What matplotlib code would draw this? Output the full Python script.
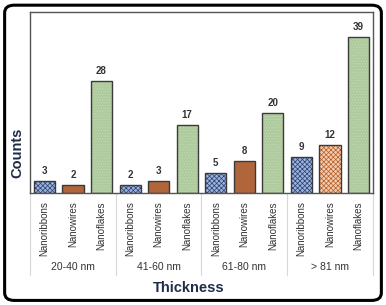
import numpy as np
import matplotlib
matplotlib.use("Agg")
import matplotlib.pyplot as plt
from matplotlib.patches import FancyBboxPatch
from matplotlib.lines import Line2D

# ---------- DATA ----------
groups = ["20-40 nm", "41-60 nm", "61-80 nm", "> 81 nm"]
types = ["Nanoribbons", "Nanowires", "Nanoflakes"]
nanoribbons = [3, 2, 5, 9]
nanowires = [2, 3, 8, 12]
nanoflakes = [28, 17, 20, 39]

# ---------- STYLE ----------
plt.rcParams["font.family"] = ["Liberation Sans", "DejaVu Sans"]
plt.rcParams["hatch.linewidth"] = 0.5
navy = "#1f2d4a"
edge = "#3a3a3a"

fig = plt.figure(figsize=(3.86, 3.05), dpi=100)
ax = fig.add_axes([0.078, 0.367, 0.888, 0.594])

n_types = len(types)
x = np.arange(len(groups) * n_types)
width = 0.74

vals = []
for g in range(len(groups)):
    vals += [nanoribbons[g], nanowires[g], nanoflakes[g]]

for i, v in enumerate(vals):
    t = i % n_types
    g = i // n_types
    if t == 0:
        kw = dict(facecolor="#9fb3d6", hatch="xxxxxxx")
        hc = "#253f78"
    elif t == 1:
        if g == len(groups) - 1:
            kw = dict(facecolor="#f1cdb0", hatch="xxxxxxx")
            hc = "#bb5a24"
        else:
            kw = dict(facecolor="#b0653a", hatch=None)
            hc = edge
    else:
        kw = dict(facecolor="#aecb9d", hatch="......")
        hc = "#c3d8b6"
    b = ax.bar(x[i], v, width=width, edgecolor=edge, linewidth=1.0, **kw)
    for p in b:
        p._hatch_color = matplotlib.colors.to_rgba(hc)
    ax.text(x[i], v + 1.3, str(v), ha="center", va="bottom",
            fontsize=7, fontweight="bold", color="#333333")

ax.set_xlim(-0.5, len(vals) - 0.5)
ax.set_ylim(0, 45.2)
ax.set_yticks([])
ax.set_xticks(x)
ax.set_xticklabels(types * len(groups), rotation=90, fontsize=7, color="#333333")
ax.tick_params(axis="x", length=0, pad=6)
for s in ax.spines.values():
    s.set_color("#555555")
    s.set_linewidth(1.0)

# group separators and group labels below the axis
trans = ax.get_xaxis_transform()
for g in range(len(groups) + 1):
    xb = g * n_types - 0.5
    ax.add_line(Line2D([xb, xb], [0, -0.45], transform=trans, color="#d8d8d8",
                       linewidth=0.8, clip_on=False))
for g, name in enumerate(groups):
    ax.text(g * n_types + 1, -0.41, name, transform=trans, ha="center", va="center",
            fontsize=7.5, color="#333333")

fig.text(0.49, 0.055, "Thickness", ha="center", va="center", fontsize=10.5,
         fontweight="bold", color=navy)
fig.text(0.045, 0.5, "Counts", ha="center", va="center", rotation=90, fontsize=10.5,
         fontweight="bold", color=navy)

# rounded outer frame
fig.patches.append(FancyBboxPatch((0.012, 0.015), 0.976, 0.968,
                                  boxstyle="round,pad=0,rounding_size=0.025",
                                  transform=fig.transFigure, fill=False,
                                  edgecolor="black", linewidth=2.2))

fig.savefig("out.png", dpi=100)
